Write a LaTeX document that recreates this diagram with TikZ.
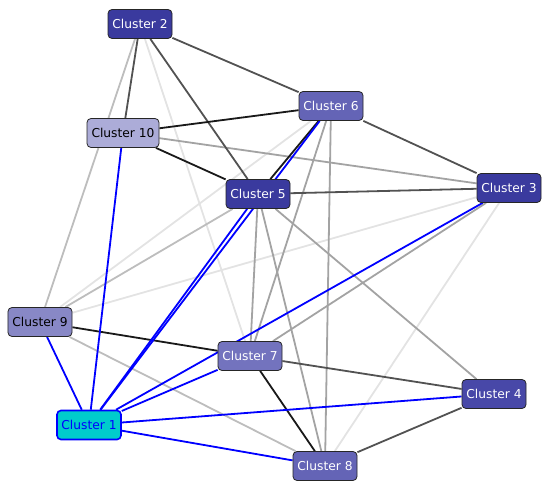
\documentclass[tikz,border=0pt]{standalone}
\usepackage{fontspec}
\setmainfont{DejaVu Sans}
\usetikzlibrary{backgrounds}

\definecolor{deepC}{RGB}{58,58,158}
\definecolor{darkC}{RGB}{72,72,168}
\definecolor{midC}{RGB}{100,100,182}
\definecolor{softC}{RGB}{115,115,190}
\definecolor{paleC}{RGB}{136,136,198}
\definecolor{lightC}{RGB}{172,172,216}
\definecolor{cyanC}{RGB}{0,204,204}
\definecolor{linkBlue}{RGB}{0,0,255}

\begin{document}
\begin{tikzpicture}[x=1bp,y=-1bp]
      % Styles
      \tikzset{cluster/.style={draw=black!85,line width=0.8bp,rounded corners=4bp,
                 minimum width=64bp,minimum height=29bp,inner sep=2bp,
                 font=\fontsize{12.3}{14}\selectfont,text=white},
               dimtext/.style={cluster,text=black},
               selected/.style={cluster,draw=linkBlue,line width=1.6bp,fill=cyanC,text=linkBlue},
               edge/.style={line width=1.8bp},
               blueedge/.style={edge,linkBlue},
               heavy/.style={edge,black!90},
               strong/.style={edge,black!68},
               medium/.style={edge,black!36},
               weak/.style={edge,black!26},
               faint/.style={edge,black!11}}
      \useasboundingbox (0,0) rectangle (550,490);

      % clusters
      \node[cluster,fill=deepC]            (c2)  at (140,24)  {Cluster 2};
      \node[dimtext,fill=lightC,minimum width=72bp] (c10) at (123,133) {Cluster 10};
      \node[cluster,fill=midC]             (c6)  at (331,106) {Cluster 6};
      \node[cluster,fill=deepC]            (c5)  at (258,194) {Cluster 5};
      \node[cluster,fill=deepC]            (c3)  at (509,188) {Cluster 3};
      \node[dimtext,fill=paleC]            (c9)  at (40,322)  {Cluster 9};
      \node[cluster,fill=softC]            (c7)  at (250,356) {Cluster 7};
      \node[selected]                      (c1)  at (89,425)  {Cluster 1};
      \node[cluster,fill=darkC]            (c4)  at (494,394) {Cluster 4};
      \node[cluster,fill=midC]             (c8)  at (325,466) {Cluster 8};

      % links, drawn behind the clusters
      \begin{scope}[on background layer]
        \foreach \a/\b in {c2/c7,c6/c9,c3/c9,c3/c8}
          \draw[faint] (\a) -- (\b);
        \foreach \a/\b in {c2/c9,c5/c9,c9/c8}
          \draw[weak] (\a) -- (\b);
        \foreach \a/\b in {c10/c3,c6/c7,c6/c8,c5/c7,c5/c8,c5/c4,c3/c7}
          \draw[medium] (\a) -- (\b);
        \foreach \a/\b in {c2/c10,c2/c5,c2/c6,c6/c3,c5/c3,c7/c4,c4/c8}
          \draw[strong] (\a) -- (\b);
        \foreach \a/\b in {c10/c6,c10/c5,c6/c5,c9/c7,c7/c8}
          \draw[heavy] (\a) -- (\b);
        % links of the selected cluster
        \foreach \b in {c9,c10,c5,c6,c3,c7,c4,c8}
          \draw[blueedge] (c1) -- (\b);
      \end{scope}
\end{tikzpicture}
\end{document}
